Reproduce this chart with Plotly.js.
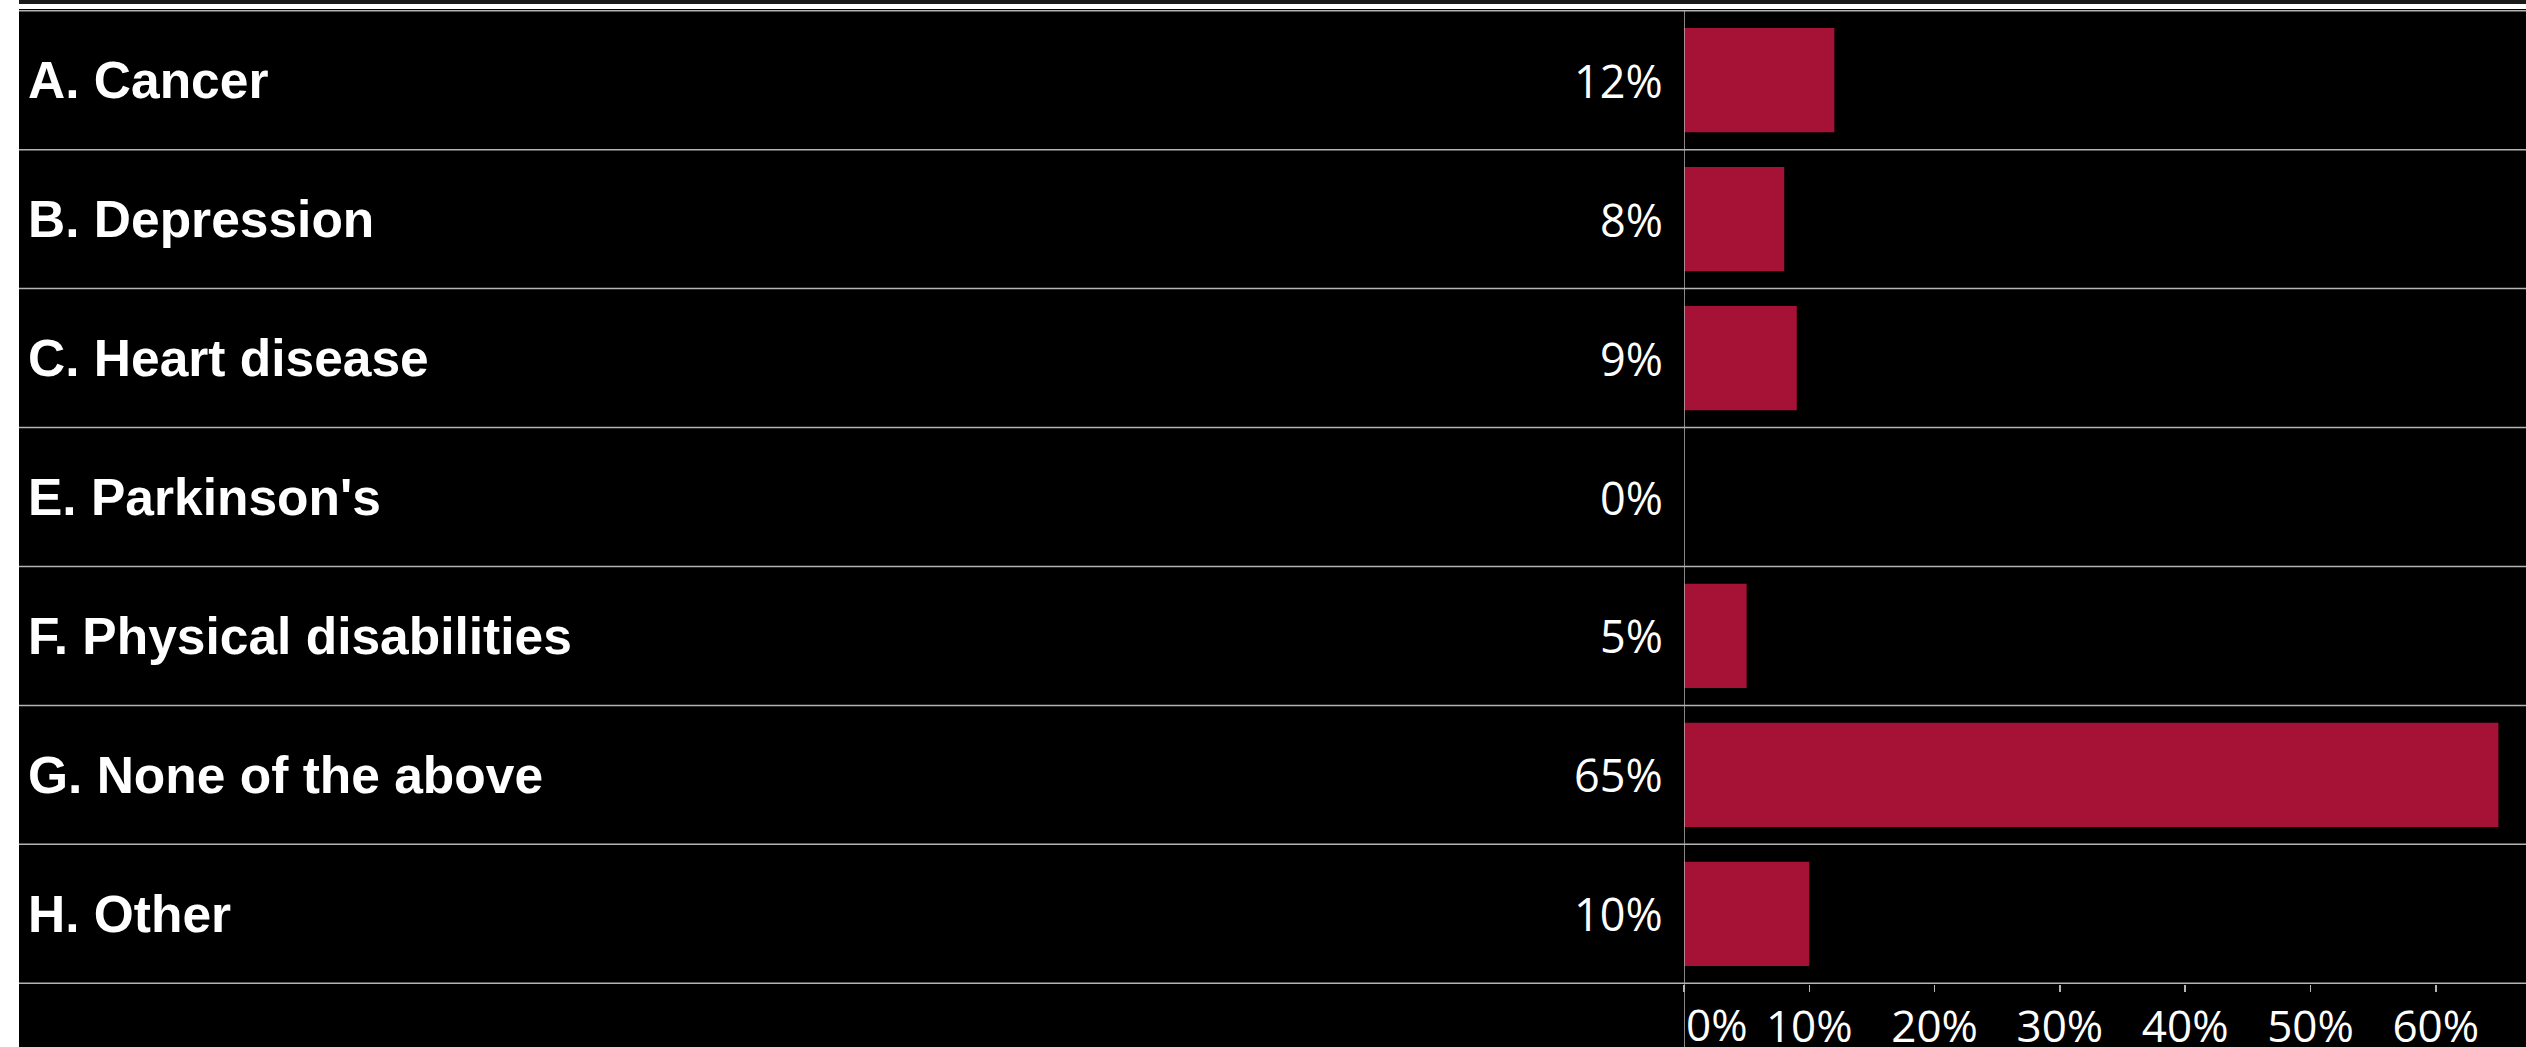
<!DOCTYPE html>
<html>
<head>
<meta charset="utf-8">
<script src="https://cdn.plot.ly/plotly-3.0.1.min.js"></script>
<style>
  html, body { margin: 0; padding: 0; background: #ffffff; width: 2526px; height: 1047px; overflow: hidden; }
  #topband { position: absolute; left: 19px; top: 0; width: 2507px; height: 4px; background: #1a1a1a; }
  #chart { position: absolute; left: 19px; top: 9px; width: 2507px; height: 1038px; }
</style>
</head>
<body>
<div id="topband"></div>
<div id="chart"></div>
<script>
// ---- data ----
const categories = ["A. Cancer", "B. Depression", "C. Heart disease", "E. Parkinson's",
                    "F. Physical disabilities", "G. None of the above", "H. Other"];
const percents = [12, 8, 9, 0, 5, 65, 10];
const xTickVals = [0, 10, 20, 30, 40, 50, 60];
const xTickText = ["", "10%", "20%", "30%", "40%", "50%", "60%"];
const zeroLabel = "0%";

// ---- layout constants ----
const W = 2507, H = 1038;
const marginL = 1665, marginR = 0, marginT = 1, marginB = 63;
const plotW = W - marginL - marginR;
const plotH = H - marginT - marginB;
const xMax = 67.2;
const lineColor = "#b4b4b4";
const barColor = "#A51236";

const n = categories.length;
const toPaperX = px => px / plotW;   // pixel offset from plot left -> paper fraction

const shapes = [];
// row separators spanning label column + plot area
for (let i = 0; i <= n; i++) {
  shapes.push({
    type: "line", xref: "paper", yref: "y",
    x0: toPaperX(-marginL), x1: 1, y0: i - 0.5, y1: i - 0.5,
    line: { color: lineColor, width: 1.5 }, layer: "above"
  });
}
// vertical divider at x = 0 extending to page bottom
shapes.push({
  type: "line", xref: "x", yref: "paper",
  x0: 0, x1: 0, y0: -marginB / plotH, y1: 1,
  line: { color: lineColor, width: 1.5 }, layer: "above"
});

const annotations = [];
categories.forEach((c, i) => {
  annotations.push({
    xref: "paper", yref: "y", x: toPaperX(-marginL + 7), y: c,
    xanchor: "left", yanchor: "middle", showarrow: false,
    text: "<b>" + c + "</b>",
    font: { family: "Liberation Sans, Arial, sans-serif", size: 51.5, color: "#ffffff" }
  });
  annotations.push({
    xref: "paper", yref: "y", x: toPaperX(-19), y: c,
    xanchor: "right", yanchor: "middle", showarrow: false,
    text: percents[i] + "%",
    font: { family: "Open Sans, sans-serif", size: 45, color: "#ffffff" }
  });
});
annotations.push({
  xref: "x", yref: "paper", x: 0, y: -8 / plotH, xshift: 0,
  xanchor: "left", yanchor: "top", showarrow: false,
  text: zeroLabel,
  font: { family: "Open Sans, sans-serif", size: 44, color: "#ffffff" }
});

const trace = {
  type: "bar", orientation: "h",
  x: percents, y: categories,
  marker: { color: barColor, line: { width: 0 } },
  hoverinfo: "skip"
};

const layout = {
  width: W, height: H,
  margin: { l: marginL, r: marginR, t: marginT, b: marginB, pad: 0 },
  paper_bgcolor: "#000000", plot_bgcolor: "#000000",
  showlegend: false,
  bargap: 0.25,
  xaxis: {
    range: [0, xMax], fixedrange: true,
    tickvals: xTickVals, ticktext: xTickText,
    ticks: "outside", ticklen: 7, tickwidth: 1.5, tickcolor: lineColor,
    ticklabelstandoff: -3,
    showgrid: false, zeroline: false, showline: false,
    tickfont: { family: "Open Sans, sans-serif", size: 44, color: "#ffffff" }
  },
  yaxis: {
    type: "category", categoryorder: "array", categoryarray: categories,
    autorange: "reversed", range: [n - 0.5, -0.5],
    showticklabels: false, ticks: "", showgrid: false, zeroline: false, showline: false,
    fixedrange: true
  },
  shapes: shapes,
  annotations: annotations
};

Plotly.newPlot("chart", [trace], layout, { staticPlot: true, displayModeBar: false });
</script>
</body>
</html>
